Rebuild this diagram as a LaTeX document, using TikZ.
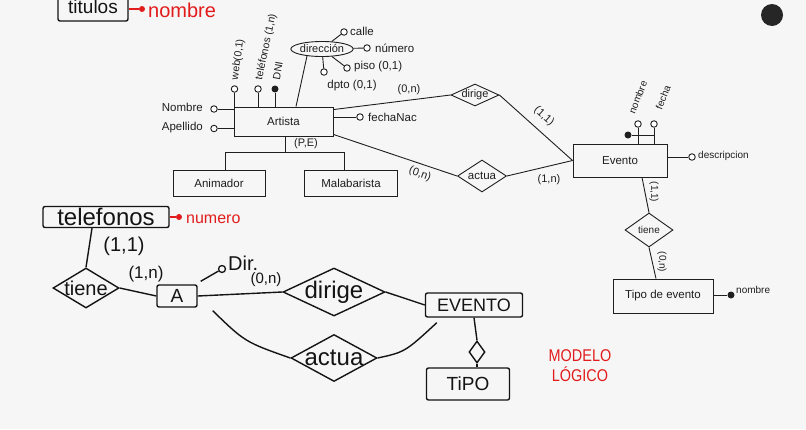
\documentclass[tikz,border=0pt]{standalone}
\usepackage{fontspec}
\setmainfont{Liberation Sans}
\usetikzlibrary{shapes.geometric,calc}
\definecolor{ink}{gray}{0.12}
\definecolor{pen}{gray}{0.08}
\definecolor{redink}{RGB}{226,28,28}
\definecolor{paper}{gray}{0.965}
\newcommand{\fs}[1]{\fontsize{#1}{#1}\selectfont}
\tikzset{
  ent/.style={draw=ink, line width=0.9pt, inner sep=0, font=\fs{11.5}, text=ink},
  rel/.style={diamond, draw=ink, line width=0.9pt, inner sep=0},
  conn/.style={draw=ink, line width=0.9pt},
  attr/.style={circle, draw=ink, line width=0.9pt, fill=white, minimum size=6.5pt, inner sep=0},
  keyattr/.style={circle, fill=ink, minimum size=7pt, inner sep=0},
  lbl/.style={font=\fs{11.5}, text=ink, inner sep=1pt},
  small/.style={font=\fs{10}, text=ink, inner sep=1pt},
  htext/.style={text=pen, inner sep=0},
  hbox/.style={draw=pen, line width=1.4pt, inner sep=0, rounded corners=2pt, text=pen},
  hdia/.style={diamond, draw=pen, line width=1.4pt, inner sep=0},
  hline/.style={draw=pen, line width=1.4pt},
  rtext/.style={text=redink, inner sep=0},
  rline/.style={draw=redink, line width=1.4pt},
  rdot/.style={circle, fill=redink, minimum size=6pt, inner sep=0},
}
\begin{document}
\begin{tikzpicture}[x=1pt,y=-1pt]
\useasboundingbox (0,0) rectangle (806,429);
\clip (0,0) rectangle (806,429);
\fill[paper] (0,0) rectangle (806,429);
\fill[black!85] (772,15) circle (11);

% ---------- printed ER diagram ----------
\node[ent, minimum width=99pt, minimum height=29pt] (art) at (283.5,121.5) {Artista};
\node[ent, minimum width=92pt, minimum height=26pt] (anim) at (219,183) {Animador};
\node[ent, minimum width=93pt, minimum height=26pt] (mala) at (351,183) {Malabarista};
\node[ent, minimum width=94pt, minimum height=33pt] (evt) at (620,160.5) {Evento};
\node[ent, minimum width=100pt, minimum height=34pt] (tip) at (663,296) {Tipo de evento};

\node[rel, minimum width=48pt, minimum height=22pt, label={[lbl,font=\fs{11}]center:dirige}] (dir) at (475,95) {};
\node[rel, minimum width=49pt, minimum height=32pt, label={[lbl]center:actua}] (act) at (482,176) {};
\node[rel, minimum width=48pt, minimum height=34pt, label={[small]center:tiene}] (tie) at (649,230) {};

% generalization
\draw[conn] ($(art.south)+(1.5,0)$) -- ++(0,17);
\draw[conn] ($(anim.north)+(6,0)$) -- ++(0,-17) -| ($(mala.north)+(-7,0)$);
\node[lbl, font=\fs{11}] (pe) at (306,144) {(P,E)};

% Artista attributes
\node[attr] (web) at (234.5,89) {};
\node[attr] (tel) at (258,89) {};
\node[keyattr] (dni) at (275,89) {};
\draw[conn] (web) -- (web |- art.north);
\draw[conn] (tel) -- (tel |- art.north);
\draw[conn] (dni) -- (dni |- art.north);
\node[lbl, font=\fs{10.5}, rotate=82, anchor=west] (webt) at (235,81) {web(0,1)};
\node[lbl, font=\fs{10.5}, rotate=78, anchor=west] (telt) at (259,81) {teléfonos (1,n)};
\node[lbl, font=\fs{10.5}, rotate=80, anchor=west] (dnit) at (276,81) {DNI};

\node[attr] (nom) at (214,109) {};
\node[attr] (ape) at (214,128.5) {};
\draw[conn] (nom) -- (nom -| art.west);
\draw[conn] (ape) -- (ape -| art.west);
\node[lbl, anchor=east] (nomt) at (204,107) {Nombre};
\node[lbl, anchor=east] (apet) at (204,128) {Apellido};

\node[attr] (fna) at (360,117) {};
\draw[conn] (fna -| art.east) -- (fna);
\node[lbl, anchor=west] (fnat) at (367,117) {fechaNac};

\node[ellipse, draw=ink, line width=0.9pt, minimum width=57pt, minimum height=15pt, inner sep=0, font=\fs{11}, text=ink] (dirc) at (322,49) {dirección};
\draw[conn] (dirc.205) -- ($(art.north)+(12.5,0)$);
\node[attr] (calle) at (344,32) {};
\node[attr] (num) at (367,48) {};
\node[attr] (piso) at (347,68) {};
\node[attr] (dpto) at (324,72) {};
\draw[conn] (dirc) -- (calle);
\draw[conn] (dirc) -- (num);
\draw[conn] (dirc) -- (piso);
\draw[conn] (dirc) -- (dpto);
\node[lbl, anchor=west] (callet) at (349,31) {calle};
\node[lbl, anchor=west] (numt) at (374,48) {número};
\node[lbl, anchor=west] (pisot) at (353,67) {piso (0,1)};
\node[lbl] (dptot) at (352,86) {dpto (0,1)};

% relationships
\draw[conn] ($(art.north east)+(0,3)$) -- (dir.west);
\node[lbl, font=\fs{11}] (c1) at (409,90) {(0,n)};
\draw[conn] (dir.east) -- (evt.west);
\node[lbl, font=\fs{11}, rotate=-42] (c2) at (544,116) {(1,1)};
\draw[conn] ($(art.south east)+(0,-2)$) -- (act.west);
\node[lbl, font=\fs{11}, rotate=-20] (c3) at (420,174) {(0,n)};
\draw[conn] (act.east) -- (evt.west);
\node[lbl, font=\fs{11}] (c4) at (549,180) {(1,n)};

% Evento attributes
\node[attr] (enom) at (638,124) {};
\node[attr] (efec) at (654,124) {};
\node[keyattr] (ekey) at (628,135) {};
\draw[conn] (enom) -- (enom |- evt.north);
\draw[conn] (efec) -- (efec |- evt.north);
\draw[conn] (ekey) -- (ekey -| efec);
\node[small, rotate=68, anchor=west] (enomt) at (631,114) {nombre};
\node[small, rotate=68, anchor=west] (efect) at (658,110) {fecha};
\node[attr] (edes) at (692,157) {};
\draw[conn] (edes -| evt.east) -- (edes);
\node[small, anchor=west] (edest) at (697,156) {descripcion};

\draw[conn] ($(evt.south)+(22,0)$) -- (tie.north);
\node[small, rotate=-90] (c5) at (654,192) {(1,1)};
\draw[conn] (tie.south) -- ($(tip.north)+(-7,0)$);
\node[small, rotate=-90] (c6) at (662,262) {(0,n)};
\node[keyattr] (tnom) at (731,295) {};
\draw[conn] (tnom -| tip.east) -- (tnom);
\node[small, anchor=west] (tnomt) at (735,290) {nombre};

% ---------- handwritten part ----------
\node[hbox, minimum width=70pt, minimum height=28pt, font=\fs{19}] (titu) at (93,7) {titulos};
\node[rdot] (rd1) at (142,9) {};
\draw[rline] (titu.east |- rd1) -- (rd1);
\node[rtext, anchor=west, font=\fs{20}] (rn1) at (148,10) {nombre};

\node[hbox, minimum width=126pt, minimum height=21pt, font=\fs{24}] (htel) at (106,217) {telefonos};
\node[rdot] (rd2) at (179,217) {};
\draw[rline] (htel.east |- rd2) -- (rd2);
\node[rtext, anchor=west, font=\fs{16}] (rn2) at (186,219) {numero};

\node[hdia, minimum width=66pt, minimum height=40pt, label={[htext, font=\fs{20}]center:tiene}] (htie) at (86,288) {};
\node[hbox, minimum width=40pt, minimum height=22pt, font=\fs{19}] (hA) at (177,296) {A};
\node[hdia, minimum width=102pt, minimum height=48pt, label={[htext,font=\fs{24}]center:dirige}] (hdir) at (334,292) {};
\node[hbox, minimum width=97pt, minimum height=24pt, font=\fs{18}] (hevt) at (474,305) {EVENTO};
\node[hdia, minimum width=86pt, minimum height=47pt, label={[htext,font=\fs{24}]center:actua}] (hact) at (334,358) {};
\node[hdia, minimum width=16pt, minimum height=22pt] (hsm) at (477,352) {};
\node[hbox, minimum width=83pt, minimum height=32pt, font=\fs{19}] (htip) at (468,384) {TiPO};

\draw[hline] ($(htel.south)+(-14,0)$) -- (htie.north);
\node[htext, font=\fs{20}] (h11) at (124,246) {(1,1)};
\draw[hline] (htie.east) -- (hA.west);
\node[htext, font=\fs{17}] (h1n) at (146,274) {(1,n)};
\node[circle, draw=pen, line width=1.3pt, minimum size=7pt, inner sep=0] (hdirc) at (222,269) {};
\draw[hline] ($(hA.north east)+(3,-3)$) -- (hdirc);
\node[htext, anchor=west, font=\fs{20}] (hdirt) at (228,263) {Dir.};
\node[htext, font=\fs{15}] (h0n) at (266,280) {(0,n)};
\draw[hline] (hA.east) -- (hdir.west);
\draw[hline] (hdir.east) -- (hevt.west);
\draw[hline] ($(hA.south east)+(15,3)$) .. controls (245,342) .. (hact.west);
\draw[hline] (hact.east) .. controls (405,352) .. ($(hevt.south west)+(12,5)$);
\draw[hline] (hevt.south) -- (hsm.north);
\draw[hline] (hsm.south) -- (hsm.south |- htip.north);

\node[rtext, font=\fontsize{17}{20}\selectfont, align=center, xscale=0.85] (ml) at (580,366) {MODELO\\LÓGICO};
\end{tikzpicture}
\end{document}
